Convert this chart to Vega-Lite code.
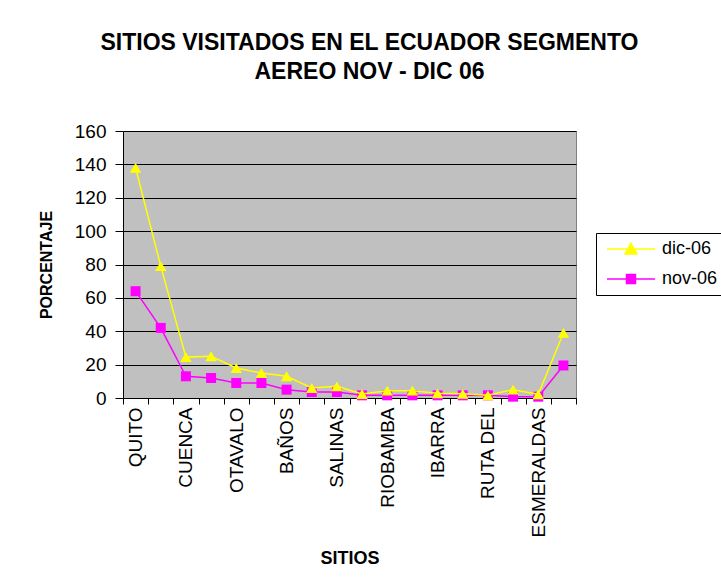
{
  "$schema": "https://vega.github.io/schema/vega-lite/v6.json",
  "width": 453,
  "height": 267,
  "autosize": {"type": "none"},
  "padding": {"left": 123, "top": 131, "right": 145, "bottom": 184},
  "background": "white",
  "title": {
    "text": ["SITIOS VISITADOS EN EL ECUADOR SEGMENTO", "AEREO NOV - DIC 06"],
    "font": "Liberation Sans",
    "fontSize": 23,
    "fontWeight": "bold",
    "color": "black",
    "lineHeight": 29,
    "anchor": "middle",
    "dx": 20,
    "offset": 38
  },
  "config": {
    "view": {"fill": "#C0C0C0", "stroke": "#808080", "strokeWidth": 1},
    "font": "Liberation Sans"
  },
  "data": {
    "values": [
      {"sitio": "QUITO", "serie": "nov-06", "valor": 64},
      {"sitio": "GALAPAGOS", "serie": "nov-06", "valor": 42},
      {"sitio": "CUENCA", "serie": "nov-06", "valor": 13},
      {"sitio": "GUAYAQUIL", "serie": "nov-06", "valor": 12},
      {"sitio": "OTAVALO", "serie": "nov-06", "valor": 9},
      {"sitio": "MITAD DEL MUNDO", "serie": "nov-06", "valor": 9},
      {"sitio": "BAÑOS", "serie": "nov-06", "valor": 5},
      {"sitio": "MONTAÑITA", "serie": "nov-06", "valor": 3.6},
      {"sitio": "SALINAS", "serie": "nov-06", "valor": 3.6},
      {"sitio": "PUERTO LOPEZ", "serie": "nov-06", "valor": 1.6},
      {"sitio": "RIOBAMBA", "serie": "nov-06", "valor": 1.6},
      {"sitio": "MINDO", "serie": "nov-06", "valor": 1.6},
      {"sitio": "IBARRA", "serie": "nov-06", "valor": 1.6},
      {"sitio": "LOJA", "serie": "nov-06", "valor": 1.6},
      {"sitio": "RUTA DEL", "serie": "nov-06", "valor": 1.6},
      {"sitio": "TENA", "serie": "nov-06", "valor": 0.8},
      {"sitio": "ESMERALDAS", "serie": "nov-06", "valor": 0.8},
      {"sitio": "OTROS", "serie": "nov-06", "valor": 19.5},
      {"sitio": "QUITO", "serie": "dic-06", "valor": 138},
      {"sitio": "GALAPAGOS", "serie": "dic-06", "valor": 79},
      {"sitio": "CUENCA", "serie": "dic-06", "valor": 24.5},
      {"sitio": "GUAYAQUIL", "serie": "dic-06", "valor": 25},
      {"sitio": "OTAVALO", "serie": "dic-06", "valor": 18},
      {"sitio": "MITAD DEL MUNDO", "serie": "dic-06", "valor": 15},
      {"sitio": "BAÑOS", "serie": "dic-06", "valor": 13},
      {"sitio": "MONTAÑITA", "serie": "dic-06", "valor": 6},
      {"sitio": "SALINAS", "serie": "dic-06", "valor": 7},
      {"sitio": "PUERTO LOPEZ", "serie": "dic-06", "valor": 2.4},
      {"sitio": "RIOBAMBA", "serie": "dic-06", "valor": 4.4},
      {"sitio": "MINDO", "serie": "dic-06", "valor": 4.4},
      {"sitio": "IBARRA", "serie": "dic-06", "valor": 2.8},
      {"sitio": "LOJA", "serie": "dic-06", "valor": 2.5},
      {"sitio": "RUTA DEL", "serie": "dic-06", "valor": 1.6},
      {"sitio": "TENA", "serie": "dic-06", "valor": 5},
      {"sitio": "ESMERALDAS", "serie": "dic-06", "valor": 2.2},
      {"sitio": "OTROS", "serie": "dic-06", "valor": 39}
    ]
  },
  "encoding": {
    "x": {
      "field": "sitio",
      "type": "nominal",
      "sort": null,
      "bandPosition": 0.5,
      "scale": {"type": "band", "paddingInner": 0, "paddingOuter": 0},
      "axis": {
        "title": "SITIOS",
        "titleFont": "Liberation Sans",
        "titleFontSize": 18,
        "titleFontWeight": "bold",
        "titleColor": "black",
        "titlePadding": 13,
        "labelAngle": -90,
        "labelAlign": "right",
        "labelBaseline": "middle",
        "labelFont": "Liberation Sans",
        "labelFontSize": 19,
        "labelColor": "black",
        "labelPadding": 3,
        "labelOverlap": false,
        "labelExpr": "indexof(['QUITO','CUENCA','OTAVALO','BAÑOS','SALINAS','RIOBAMBA','IBARRA','RUTA DEL','ESMERALDAS'], datum.value) >= 0 ? datum.value : ''",
        "tickBand": "extent",
        "tickSize": 6,
        "tickColor": "black",
        "domainColor": "black",
        "grid": false
      }
    },
    "y": {
      "field": "valor",
      "type": "quantitative",
      "scale": {"domain": [0, 160], "nice": false},
      "axis": {
        "title": "PORCENTAJE",
        "titleFont": "Liberation Sans",
        "titleFontSize": 16,
        "titleFontWeight": "bold",
        "titleColor": "black",
        "titlePadding": 20,
        "values": [0, 20, 40, 60, 80, 100, 120, 140, 160],
        "labelFont": "Liberation Sans",
        "labelFontSize": 19,
        "labelColor": "black",
        "labelPadding": 9,
        "tickSize": 8,
        "tickColor": "black",
        "domainColor": "black",
        "grid": true,
        "gridColor": "black",
        "gridWidth": 1
      }
    },
    "color": {
      "field": "serie",
      "type": "nominal",
      "scale": {"domain": ["dic-06", "nov-06"], "range": ["#FFFF00", "#FF00FF"]},
      "legend": {
        "title": null,
        "orient": "none",
        "legendX": 473,
        "legendY": 102,
        "direction": "vertical",
        "strokeColor": "black",
        "fillColor": "white",
        "padding": 7,
        "symbolOffset": 19,
        "labelOffset": 22,
        "rowPadding": 12,
        "symbolSize": 144,
        "labelFont": "Liberation Sans",
        "labelFontSize": 18,
        "labelColor": "black",
        "encode": {
          "symbols": {
            "update": {
              "shape": {"signal": "datum.value === 'dic-06' ? 'M-4,0H4M0,-0.95L1,0.85L-1,0.85Z' : 'M-4,0H4M-0.75,-0.75H0.75V0.75H-0.75Z'"},
              "fill": {"signal": "datum.value === 'dic-06' ? '#FFFF00' : '#FF00FF'"},
              "stroke": {"signal": "datum.value === 'dic-06' ? '#FFFF00' : '#FF00FF'"},
              "strokeWidth": {"value": 1.5},
              "opacity": {"value": 1},
              "fillOpacity": {"value": 1},
              "strokeOpacity": {"value": 1}
            }
          }
        }
      }
    }
  },
  "layer": [
    {
      "transform": [{"filter": "datum.serie === 'nov-06'"}],
      "mark": {"type": "line", "strokeWidth": 1.5}
    },
    {
      "transform": [{"filter": "datum.serie === 'nov-06'"}],
      "mark": {"type": "point", "shape": "square", "filled": true, "size": 100, "opacity": 1}
    },
    {
      "transform": [{"filter": "datum.serie === 'dic-06'"}],
      "mark": {"type": "line", "strokeWidth": 1.5}
    },
    {
      "transform": [{"filter": "datum.serie === 'dic-06'"}],
      "mark": {"type": "point", "shape": "triangle-up", "filled": true, "size": 130, "opacity": 1}
    }
  ]
}
